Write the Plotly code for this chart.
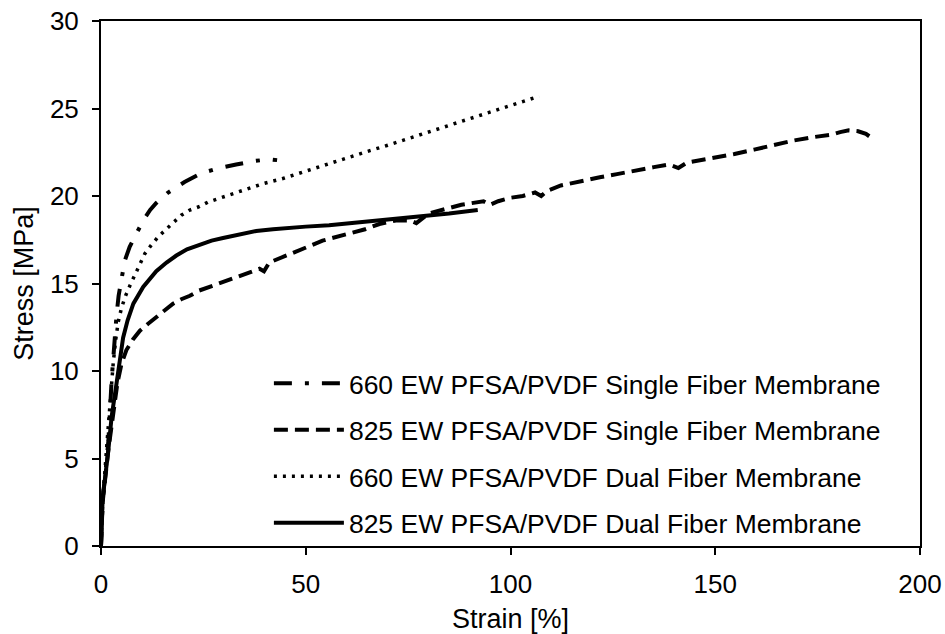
import plotly.graph_objects as go

# 660 EW PFSA/PVDF Single Fiber Membrane
s1_x = [0, 0.4, 1.0, 1.8, 2.6, 3.2, 3.8, 4.3, 5.0, 5.8, 7.0, 8.3, 10.3, 12.0, 13.5, 16.4, 20.4, 24.5, 28.1, 33.0, 37.5, 41.1, 43.0]
s1_y = [0, 2.7, 4.0, 6.0, 9.5, 11.5, 13.2, 14.3, 15.3, 16.3, 17.1, 17.7, 18.6, 19.2, 19.6, 20.2, 20.8, 21.3, 21.55, 21.8, 22.0, 22.1, 22.05]

# 825 EW PFSA/PVDF Single Fiber Membrane
s2_x = [0, 0.4, 1.8, 3.0, 4.0, 5.0, 6.2, 7.8, 9.5, 11.5, 13.5, 15.5, 17.6, 19.6, 21.7, 24.0, 26.5, 29.0, 31.4,
        34.2, 36.5, 38.7, 39.8, 41.1, 44.4, 47.6, 50.5, 54.1, 57.5, 61.0, 64.5, 68.0, 72.0, 75.5, 77.0, 80.0,
        83.1, 88.0, 93.4, 95.0, 97.0, 100.0, 103.0, 106.0, 107.5, 109.0, 112.3, 117.0, 121.8, 126.0, 131.0,
        135.0, 138.7, 141.0, 143.0, 145.4, 150.0, 154.7, 159.5, 164.0, 168.9, 173.5, 178.3, 180.5, 182.6,
        184.9, 186.8, 188.0]
s2_y = [0, 2.5, 5.5, 7.8, 9.3, 10.4, 11.2, 11.8, 12.3, 12.7, 13.1, 13.5, 13.85, 14.1, 14.3, 14.6, 14.8, 15.0, 15.2,
        15.46, 15.65, 15.84, 15.7, 16.2, 16.5, 16.8, 17.1, 17.45, 17.65, 17.9, 18.1, 18.4, 18.6, 18.6, 18.45, 19.0,
        19.2, 19.5, 19.7, 19.5, 19.7, 19.9, 20.0, 20.2, 20.0, 20.3, 20.6, 20.85, 21.07, 21.25, 21.5,
        21.65, 21.8, 21.6, 21.9, 22.0, 22.2, 22.4, 22.65, 22.9, 23.16, 23.35, 23.5, 23.65, 23.75,
        23.7, 23.55, 23.35]

# 660 EW PFSA/PVDF Dual Fiber Membrane
s3_x = [0, 0.4, 1.5, 2.2, 3.0, 3.6, 4.2, 5.0, 6.0, 7.1, 7.9, 9.1, 10.7, 12.3, 13.9, 15.9, 17.6, 19.6, 21.7, 24.1,
        26.1, 28.1, 30.6, 33.0, 35.4, 39.5, 44.4, 48.4, 53.3, 57.3, 61.0, 65.1, 70.0, 74.6, 79.0, 84.0, 88.5,
        93.4, 98.0, 102.5, 107.0]
s3_y = [0, 2.5, 6.0, 8.3, 10.5, 11.8, 12.8, 13.6, 14.3, 14.9, 15.3, 15.8, 16.7, 17.2, 17.65, 18.1, 18.5, 18.9, 19.2, 19.4,
        19.65, 19.8, 20.0, 20.2, 20.4, 20.7, 21.0, 21.3, 21.7, 22.0, 22.25, 22.55, 22.9, 23.25, 23.6, 23.95, 24.3,
        24.65, 25.0, 25.35, 25.7]

# 825 EW PFSA/PVDF Dual Fiber Membrane
s4_x = [0, 0.4, 1.8, 2.6, 3.8, 5.4, 6.5, 7.9, 10.3, 13.5, 16.0, 18.4, 21.0, 24.1, 27.0, 29.8, 33.5, 37.9, 42.0,
        46.0, 50.0, 55.7, 60.0, 65.0, 70.0, 75.0, 80.0, 85.0, 92.0]
s4_y = [0, 2.7, 5.5, 7.4, 9.3, 11.9, 12.9, 13.85, 14.8, 15.7, 16.2, 16.6, 16.95, 17.2, 17.45, 17.6, 17.8, 18.0, 18.1,
        18.2, 18.25, 18.33, 18.42, 18.53, 18.65, 18.77, 18.88, 19.0, 19.2]

names = ["660 EW PFSA/PVDF Single Fiber Membrane",
         "825 EW PFSA/PVDF Single Fiber Membrane",
         "660 EW PFSA/PVDF Dual Fiber Membrane",
         "825 EW PFSA/PVDF Dual Fiber Membrane"]

x_ticks = [0, 50, 100, 150, 200]
y_ticks = [0, 5, 10, 15, 20, 25, 30]

series = [(s1_x, s1_y, "18px,13px,4px,13px", 4),
          (s2_x, s2_y, "14px,7px", 4),
          (s3_x, s3_y, "3px,6px", 3.5),
          (s4_x, s4_y, "solid", 4)]

FONT = "Liberation Sans, Arial, sans-serif"

fig = go.Figure()
for i, ((xs, ys, dash, w), nm) in enumerate(zip(series, names)):
    fig.add_trace(go.Scatter(x=xs, y=ys, mode="lines", name=nm, legendgroup=f"g{i}",
                             line=dict(color="black", width=w, dash=dash)))

fig.update_layout(
    width=945, height=634,
    margin=dict(l=101, r=25, t=21, b=88),
    paper_bgcolor="white", plot_bgcolor="white",
    font=dict(family=FONT, size=26, color="black"),
    showlegend=True,
    legend=dict(x=0.205, y=0.355, xanchor="left", yanchor="top",
                bgcolor="rgba(0,0,0,0)", borderwidth=0,
                font=dict(family=FONT, size=26.5, color="black"),
                tracegroupgap=9, itemwidth=70, traceorder="grouped"),
)
fig.update_xaxes(range=[0, 200], tickvals=x_ticks, showgrid=False, zeroline=False,
                 showline=True, linecolor="black", linewidth=2, mirror=True,
                 ticks="outside", ticklen=7, tickwidth=2, tickcolor="black",
                 ticklabelstandoff=7, automargin=False,
                 title=dict(text="Strain [%]", font=dict(family=FONT, size=27), standoff=15))
fig.update_yaxes(range=[0, 30], tickvals=y_ticks, showgrid=False, zeroline=False,
                 showline=True, linecolor="black", linewidth=2, mirror=True,
                 ticks="outside", ticklen=7, tickwidth=2, tickcolor="black",
                 ticklabelstandoff=8, automargin=False,
                 title=dict(text="Stress [MPa]", font=dict(family=FONT, size=27), standoff=8))

fig.write_html("out.html")
